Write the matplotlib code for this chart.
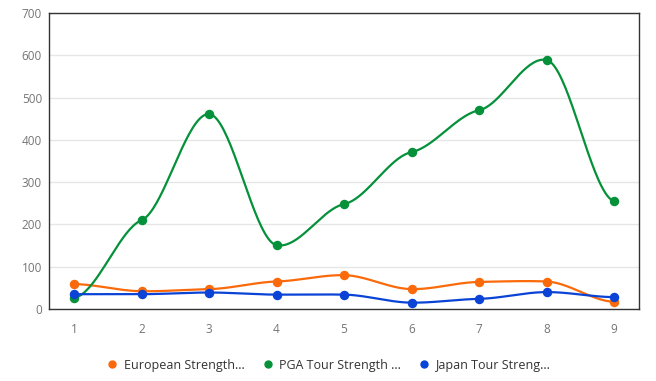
import numpy as np
import matplotlib
matplotlib.use("Agg")
import matplotlib.pyplot as plt

x_vals = [1, 2, 3, 4, 5, 6, 7, 8, 9]
european = [59, 42, 47, 65, 80, 47, 64, 65, 17]
pga = [26, 210, 461, 151, 248, 371, 470, 589, 255]
japan = [35, 35, 39, 34, 34, 15, 24, 40, 28]
labels = ["European Strength...", "PGA Tour Strength ...", "Japan Tour Streng..."]
colors = ["#fa6a0a", "#05913a", "#0a43d6"]
y_ticks = [0, 100, 200, 300, 400, 500, 600, 700]


def smooth(xs, ys, k=0.3, n=40):
    xs = np.asarray(xs, float)
    ys = np.asarray(ys, float)
    m = len(xs)
    t = np.zeros(m)
    for i in range(1, m - 1):
        t[i] = k * (ys[i + 1] - ys[i - 1]) / (xs[i + 1] - xs[i - 1])
    t[0] = 0.5 * k * (ys[1] - ys[0]) / (xs[1] - xs[0])
    t[-1] = 0.5 * k * (ys[-1] - ys[-2]) / (xs[-1] - xs[-2])
    ox, oy = [], []
    for i in range(m - 1):
        u = np.linspace(0, 1, n, endpoint=(i == m - 2))
        dx = xs[i + 1] - xs[i]
        h00 = 2 * u**3 - 3 * u**2 + 1
        h10 = u**3 - 2 * u**2 + u
        h01 = -2 * u**3 + 3 * u**2
        h11 = u**3 - u**2
        ox.extend(xs[i] + u * dx)
        oy.extend(h00 * ys[i] + h10 * dx * t[i] + h01 * ys[i + 1] + h11 * dx * t[i + 1])
    return np.array(ox), np.array(oy)


plt.rcParams['font.family'] = ['Open Sans', 'DejaVu Sans']
fig = plt.figure(figsize=(6.56, 3.81), dpi=100)
ax = fig.add_axes([49 / 656, 1 - 309 / 381, 590 / 656, 296 / 381])

handles = []
for i, (ser, c) in enumerate(zip([european, pga, japan], colors)):
    sx, sy = smooth(x_vals, ser)
    ax.plot(sx, sy, color=c, lw=1.6, zorder=3 + i, solid_capstyle='round')
    ax.plot(x_vals, ser, 'o', color=c, ms=5.8, zorder=3 + i)
    h, = ax.plot([], [], 'o', color=c, ms=5, label=labels[i])
    handles.append(h)

ax.set_xlim(1 - 25 / 67.5, 9 + 25 / 67.5)
ax.set_ylim(0, 700)
ax.set_yticks(y_ticks)
ax.set_xticks(x_vals)
ax.grid(axis='y', color='#e6e6e6', lw=1, zorder=0)
ax.set_axisbelow(True)
for sp in ax.spines.values():
    sp.set_color('#333333')
    sp.set_linewidth(1)
ax.tick_params(length=0, labelsize=8.5, colors='#757575')
ax.tick_params(axis='x', pad=10)
ax.tick_params(axis='y', pad=5)

fig.legend(handles=handles, loc='center', bbox_to_anchor=(0.5, 1 - 365 / 381), ncol=3,
           frameon=False, fontsize=9, handletextpad=0.4, columnspacing=1.35,
           labelcolor='#333333', handlelength=1.0)

fig.savefig("out.png", dpi=100)
